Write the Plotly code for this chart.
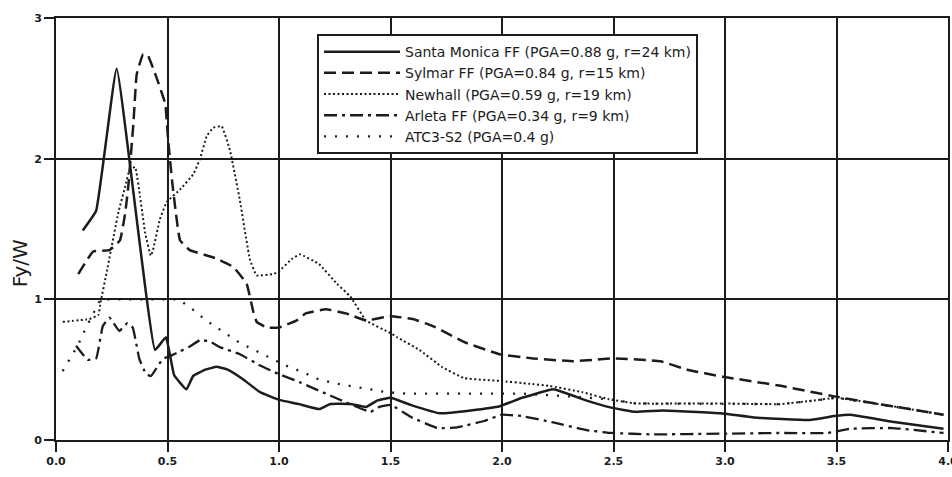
import plotly.graph_objects as go

# ---------------- data ----------------
santa_monica_x = [0.12, 0.18, 0.272, 0.444, 0.493, 0.53, 0.585, 0.615, 0.67, 0.72, 0.77, 0.84, 0.915,
                  1.0, 1.09, 1.18, 1.23, 1.32, 1.39, 1.44, 1.50, 1.59, 1.72, 1.86, 1.99, 2.09, 2.23,
                  2.38, 2.49, 2.60, 2.72, 2.98, 3.13, 3.38, 3.49, 3.56, 3.75, 3.98]
santa_monica_y = [1.49, 1.63, 2.64, 0.64, 0.73, 0.46, 0.36, 0.455, 0.50, 0.52, 0.50, 0.43, 0.34,
                  0.285, 0.255, 0.22, 0.256, 0.256, 0.235, 0.28, 0.30, 0.25, 0.19, 0.21, 0.24, 0.30, 0.36,
                  0.28, 0.23, 0.20, 0.21, 0.19, 0.16, 0.143, 0.17, 0.18, 0.13, 0.08]

sylmar_x = [0.10, 0.167, 0.24, 0.287, 0.31, 0.324, 0.347, 0.362, 0.39, 0.41, 0.45, 0.49, 0.503, 0.52,
            0.534, 0.556, 0.60, 0.68, 0.72, 0.795, 0.855, 0.885, 0.90, 0.945, 1.0, 1.08, 1.12, 1.21,
            1.30, 1.39, 1.50, 1.60, 1.69, 1.84, 1.99, 2.14, 2.32, 2.41, 2.50, 2.71, 2.83, 2.99, 3.25,
            3.49, 3.75, 3.98]
sylmar_y = [1.18, 1.34, 1.35, 1.42, 1.61, 1.80, 2.25, 2.60, 2.74, 2.74, 2.58, 2.39, 2.13, 1.85,
            1.66, 1.42, 1.35, 1.31, 1.29, 1.23, 1.11, 0.91, 0.84, 0.80, 0.80, 0.85, 0.90, 0.93,
            0.90, 0.85, 0.88, 0.86, 0.81, 0.69, 0.61, 0.58, 0.56, 0.57, 0.58, 0.56, 0.50, 0.45, 0.385,
            0.31, 0.24, 0.18]

newhall_x = [0.03, 0.15, 0.19, 0.20, 0.227, 0.28, 0.31, 0.33, 0.355, 0.377, 0.40, 0.425, 0.435, 0.466,
             0.496, 0.556, 0.616, 0.646, 0.676, 0.705, 0.743, 0.78, 0.825, 0.87, 0.90, 0.975, 1.0,
             1.06, 1.094, 1.18, 1.26, 1.32, 1.39, 1.50, 1.53, 1.63, 1.73, 1.83, 1.99, 2.12, 2.21,
             2.36, 2.48, 2.60, 2.98, 3.25, 3.38, 3.50, 3.75, 3.98]
newhall_y = [0.84, 0.86, 0.89, 0.98, 1.19, 1.62, 1.80, 1.92, 1.94, 1.73, 1.47, 1.31, 1.35, 1.57,
             1.69, 1.78, 1.89, 2.00, 2.16, 2.22, 2.23, 2.06, 1.70, 1.28, 1.17, 1.18, 1.20,
             1.29, 1.32, 1.25, 1.11, 1.02, 0.85, 0.76, 0.73, 0.64, 0.52, 0.44, 0.42, 0.40, 0.385,
             0.34, 0.29, 0.26, 0.26, 0.255, 0.277, 0.30, 0.24, 0.18]

arleta_x = [0.09, 0.142, 0.18, 0.21, 0.24, 0.284, 0.32, 0.344, 0.374, 0.404, 0.426, 0.478, 0.516,
            0.556, 0.60, 0.646, 0.69, 0.735, 0.825, 0.915, 0.997, 1.094, 1.26, 1.41, 1.45, 1.50,
            1.59, 1.71, 1.80, 1.92, 2.0, 2.09, 2.23, 2.38, 2.49, 2.68, 2.99, 3.25, 3.46, 3.56, 3.75, 3.98]
arleta_y = [0.67, 0.57, 0.58, 0.81, 0.87, 0.775, 0.83, 0.80, 0.575, 0.47, 0.455, 0.575, 0.60,
            0.63, 0.665, 0.71, 0.70, 0.66, 0.61, 0.53, 0.47, 0.41, 0.295, 0.20, 0.235, 0.25,
            0.165, 0.085, 0.09, 0.135, 0.18, 0.17, 0.125, 0.07, 0.05, 0.04, 0.045, 0.05, 0.05, 0.08, 0.085, 0.05]

atc3_x = [0.03, 0.097, 0.135, 0.20, 0.55, 0.62, 0.673, 0.825, 1.03, 1.11, 1.18, 1.26, 1.41, 1.48,
          1.57, 2.09, 2.30, 2.48, 2.60, 2.98, 3.25, 3.38, 3.50, 3.75, 3.98]
atc3_y = [0.49, 0.67, 0.80, 1.0, 1.0, 0.92, 0.85, 0.69, 0.53, 0.48, 0.43, 0.40, 0.36, 0.34,
          0.33, 0.33, 0.31, 0.29, 0.26, 0.26, 0.255, 0.277, 0.30, 0.24, 0.18]

series_names = [
    "Santa Monica FF (PGA=0.88 g, r=24 km)",
    "Sylmar FF (PGA=0.84 g, r=15 km)",
    "Newhall (PGA=0.59 g, r=19 km)",
    "Arleta FF (PGA=0.34 g, r=9 km)",
    "ATC3-S2 (PGA=0.4 g)",
]

x_tick_vals = [0.0, 0.5, 1.0, 1.5, 2.0, 2.5, 3.0, 3.5, 4.0]
x_tick_text = ["0.0", "0.5", "1.0", "1.5", "2.0", "2.5", "3.0", "3.5", "4.0"]
y_tick_vals = [0, 1, 2, 3]
y_tick_text = ["0", "1", "2", "3"]
y_label = "Fy/W"

# ---------------- figure ----------------
INK = "#1c1c1c"
styles = [
    dict(width=2.5, dash="solid", smooth=0.3),
    dict(width=2.5, dash="12px,6px", smooth=0.3),
    dict(width=2.0, dash="2px,2.5px", smooth=0.3),
    dict(width=2.3, dash="13px,5px,3px,5px", smooth=0.3),
    dict(width=2.3, dash="2px,9px", smooth=0.0),
]
data = [
    (santa_monica_x, santa_monica_y),
    (sylmar_x, sylmar_y),
    (newhall_x, newhall_y),
    (arleta_x, arleta_y),
    (atc3_x, atc3_y),
]

fig = go.Figure()
for (xs, ys), name, st in zip(data, series_names, styles):
    line = dict(color=INK, width=st["width"], dash=st["dash"])
    if st["smooth"] > 0:
        line.update(shape="spline", smoothing=st["smooth"])
    fig.add_trace(go.Scatter(x=xs, y=ys, name=name, mode="lines", line=line))

axis_common = dict(
    showgrid=True, gridcolor=INK, gridwidth=2,
    showline=True, linecolor=INK, linewidth=2, mirror=True,
    ticks="outside", ticklen=10, tickwidth=2, tickcolor=INK,
    zeroline=False, ticklabeloverflow="allow", automargin=False,
    tickfont=dict(family="DejaVu Sans", size=11, color=INK, weight="bold"),
)

fig.update_layout(
    width=952, height=477,
    margin=dict(l=56, r=4, t=18, b=37, autoexpand=False),
    paper_bgcolor="white", plot_bgcolor="white",
    showlegend=True,
    legend=dict(
        x=0.2926, y=0.962, xanchor="left", yanchor="top",
        bgcolor="white", bordercolor=INK, borderwidth=2,
        font=dict(family="DejaVu Sans", size=14, color=INK),
        itemwidth=76, tracegroupgap=0,
    ),
    xaxis=dict(range=[0, 4], tickvals=x_tick_vals, ticktext=x_tick_text, **axis_common),
    yaxis=dict(range=[0, 3], tickvals=y_tick_vals, ticktext=y_tick_text, **axis_common),
    annotations=[dict(
        text=y_label, xref="paper", yref="paper", x=-0.041, y=0.42,
        xanchor="center", yanchor="middle", textangle=-90, showarrow=False,
        font=dict(family="DejaVu Sans", size=20, color=INK),
    )],
)

fig.write_html("out.html")
